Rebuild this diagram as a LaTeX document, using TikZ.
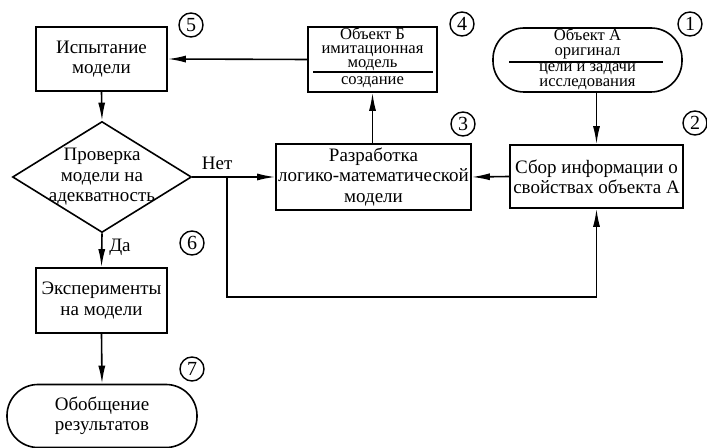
\documentclass[tikz,border=0pt]{standalone}
\usepackage{fontspec}
\setmainfont{Liberation Serif}
\usetikzlibrary{shapes.geometric,arrows.meta,calc}
\tikzset{
  block/.style={draw,line width=0.8pt,inner sep=0pt,align=center,font=\fontsize{9.5}{10.2}\selectfont},
  term/.style={block,rounded corners=15.5pt},
  decision/.style={draw,line width=0.8pt,diamond,inner sep=0pt,minimum width=89.5pt,minimum height=55.5pt},
  tight/.style={anchor=base,inner sep=0pt,font=\fontsize{8.3}{8.3}\selectfont},
  num/.style={draw,circle,line width=0.7pt,inner sep=0pt,minimum size=12pt,font=\fontsize{10}{10}\selectfont},
  arr/.style={line width=0.8pt,-{Latex[length=9pt,width=3.5pt]}},
}
\begin{document}
\begin{tikzpicture}[x=0.5pt,y=-0.5pt]
  \useasboundingbox (0,0) rectangle (707,448);
  % blocks
  \node[block,minimum width=65.5pt,minimum height=32pt](isp)at(101.5,59){Испытание\\модели};
  \node[block,minimum width=64.5pt,minimum height=32.5pt](objb)at(372.5,59.5){};
  \node[tight](objb1)at(372.5,40){Объект Б};
  \node[tight](objb2)at(372.5,53.6){имитационная};
  \node[tight](objb3)at(372.5,67.2){модель};
  \node[tight](objb4)at(372.5,85){создание};
  \draw[line width=0.8pt](313,72)--(433,72);
  \node[term,minimum width=94.5pt,minimum height=32pt](obja)at(587.5,60){};
  \node[tight](obja1)at(587.5,41){Объект А};
  \node[tight](obja2)at(587.5,55.5){оригинал};
  \node[tight](obja3)at(587.5,72){цели и задачи};
  \node[tight](obja4)at(587.5,86.5){исследования};
  \draw[line width=0.8pt](509,62)--(663,62);
  \node[decision](chk)at(102,177){};
  \node[block,draw=none](chktxt)at(chk){Проверка\\модели на\\адекватность};
  \node[block,minimum width=97.5pt,minimum height=33pt](dev)at(373.5,177){Разработка\\логико-математической\\модели};
  \node[block,minimum width=86.5pt,minimum height=31.5pt](info)at(596.5,176.5){Сбор информации о\\свойствах объекта А};
  \node[block,minimum width=65.5pt,minimum height=32.5pt](exp)at(101.5,300.5){Эксперименты\\на модели};
  \node[term,minimum width=95pt,minimum height=31.5pt](res)at(102,416){Обобщение\\результатов};
  % numbers
  \node[num](n1)at(690,24){1};
  \node[num](n2)at(695,123){2};
  \node[num](n3)at(463,124){3};
  \node[num](n4)at(462,24){4};
  \node[num](n5)at(191,25){5};
  \node[num](n6)at(192,243){6};
  \node[num](n7)at(192,369){7};
  % connectors
  \coordinate(fork)at(227,177);
  \coordinate(low)at(227,297);
  \draw[arr](objb.west)--(isp.east);
  \draw[arr](dev.north-|objb4)--(objb.south-|objb4);
  \draw[arr](info.west)--(dev.east);
  \draw[arr](obja.south-|info.north)--(info.north);
  \draw[arr](isp.south)--(chk.north);
  \draw[arr](chk.east)--node[above,pos=0.3,font=\fontsize{9.5}{10}\selectfont]{Нет}(dev.west);
  \draw[arr](chk.south)--node[right,pos=0.4,font=\fontsize{9.5}{10}\selectfont]{Да}(exp.north);
  \draw[arr](fork)--(low)--(low-|info.south)--(info.south);
  \draw[arr](exp.south)--(res.north);
\end{tikzpicture}
\end{document}
